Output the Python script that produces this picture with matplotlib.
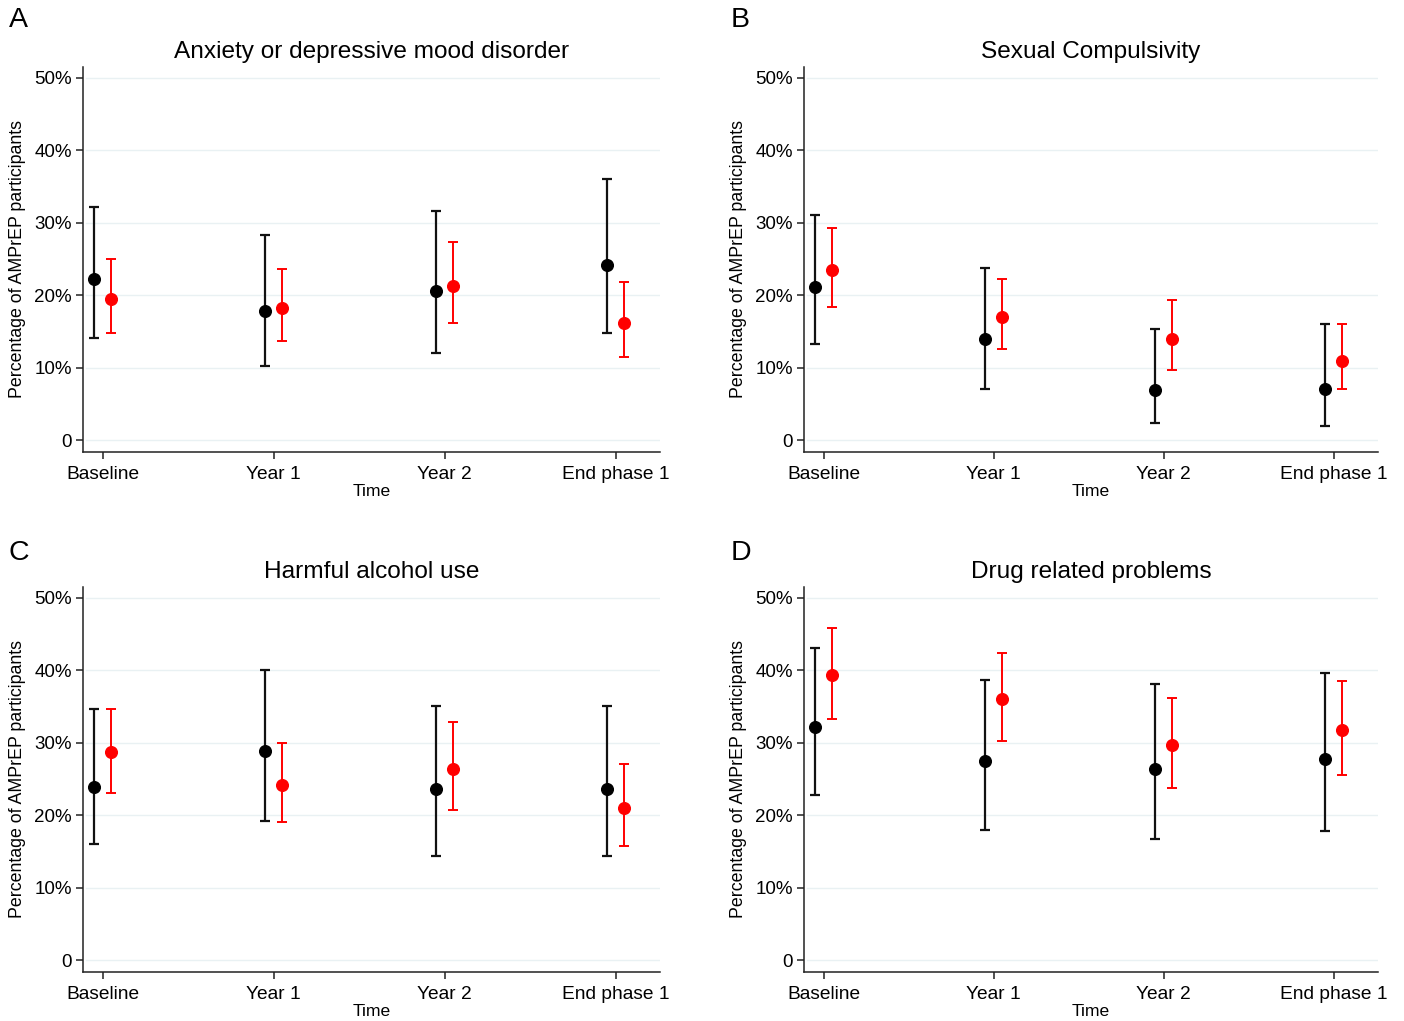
import matplotlib
matplotlib.use("Agg")
import matplotlib.pyplot as plt
import numpy as np

plt.rcParams['font.family'] = ['Liberation Sans', 'DejaVu Sans']

timepoints = ["Baseline", "Year 1", "Year 2", "End phase 1"]
ytick_vals = [0, 10, 20, 30, 40, 50]
ytick_labels = ["0", "10%", "20%", "30%", "40%", "50%"]

titles = ["Anxiety or depressive mood disorder", "Sexual Compulsivity",
          "Harmful alcohol use", "Drug related problems"]
letters = ["A", "B", "C", "D"]

# black series: estimate, lower CI, upper CI
a_black = [22.2, 17.8, 20.5, 24.2]
a_black_lo = [14.1, 10.2, 12.0, 14.8]
a_black_hi = [32.2, 28.3, 31.6, 36.0]
a_red = [19.5, 18.2, 21.3, 16.1]
a_red_lo = [14.8, 13.6, 16.1, 11.4]
a_red_hi = [25.0, 23.6, 27.3, 21.8]

b_black = [21.1, 13.9, 6.9, 7.1]
b_black_lo = [13.2, 7.0, 2.3, 2.0]
b_black_hi = [31.0, 23.8, 15.3, 16.0]
b_red = [23.5, 17.0, 13.9, 10.9]
b_red_lo = [18.4, 12.6, 9.7, 7.0]
b_red_hi = [29.2, 22.2, 19.3, 16.0]

c_black = [23.9, 28.8, 23.6, 23.6]
c_black_lo = [16.0, 19.2, 14.4, 14.4]
c_black_hi = [34.6, 40.0, 35.1, 35.1]
c_red = [28.7, 24.1, 26.4, 21.0]
c_red_lo = [23.0, 19.1, 20.7, 15.8]
c_red_hi = [34.7, 30.0, 32.9, 27.1]

d_black = [32.2, 27.5, 26.4, 27.7]
d_black_lo = [22.8, 18.0, 16.7, 17.8]
d_black_hi = [43.0, 38.6, 38.1, 39.6]
d_red = [39.3, 36.0, 29.6, 31.7]
d_red_lo = [33.3, 30.2, 23.7, 25.5]
d_red_hi = [45.8, 42.4, 36.2, 38.5]

panels = [
    (a_black, a_black_lo, a_black_hi, a_red, a_red_lo, a_red_hi),
    (b_black, b_black_lo, b_black_hi, b_red, b_red_lo, b_red_hi),
    (c_black, c_black_lo, c_black_hi, c_red, c_red_lo, c_red_hi),
    (d_black, d_black_lo, d_black_hi, d_red, d_red_lo, d_red_hi),
]

W, H = 1404, 1021
fig = plt.figure(figsize=(W / 100, H / 100), dpi=100)

# axes rectangles in pixels: left, right, bottom(px from top), top(px from top)
rects = [
    (83, 660, 451.7, 66.7),
    (804, 1378, 451.7, 66.7),
    (83, 660, 971.7, 586.7),
    (804, 1378, 971.7, 586.7),
]
letter_pos = [(9, 7), (731, 7), (9, 540), (731, 540)]

off = 0.05
x = np.arange(len(timepoints))
for i, (rect, data) in enumerate(zip(rects, panels)):
    l, r, b, t = rect
    ax = fig.add_axes([l / W, (H - b) / H, (r - l) / W, (b - t) / H])
    bk, bklo, bkhi, rd, rdlo, rdhi = [np.array(v) for v in data]
    for yv in ytick_vals:
        ax.axhline(yv, color='#e9f1f3', lw=1.0, zorder=0, xmin=0.005)
    ax.errorbar(x - off, bk, yerr=[bk - bklo, bkhi - bk], fmt='o', color='black',
                ecolor='#111111', elinewidth=1.6, capsize=3.3, capthick=1.6,
                markersize=8.4, zorder=3)
    ax.errorbar(x + off, rd, yerr=[rd - rdlo, rdhi - rd], fmt='o', color='#ff0000',
                ecolor='#ff0000', elinewidth=1.4, capsize=3.3, capthick=1.4,
                markersize=8.4, zorder=3)
    ax.set_xlim(-0.115, 3.26)
    ax.set_ylim(-1.6, 51.5)
    ax.set_xticks(x)
    ax.set_xticklabels(timepoints, fontsize=13.8)
    ax.set_yticks(ytick_vals)
    ax.set_yticklabels(ytick_labels, fontsize=13.5)
    ax.tick_params(axis='both', length=5, width=1.1, color='#222222', pad=3)
    ax.tick_params(axis='x', pad=5)
    for s in ['top', 'right']:
        ax.spines[s].set_visible(False)
    for s in ['left', 'bottom']:
        ax.spines[s].set_linewidth(1.1)
        ax.spines[s].set_color('#222222')
    ax.set_title(titles[i], fontsize=17.6, pad=6)
    ax.set_xlabel("Time", fontsize=12.6, labelpad=1)
    ax.set_ylabel("Percentage of AMPrEP participants", fontsize=12.8, labelpad=6)
    lx, ly = letter_pos[i]
    fig.text(lx / W, 1 - ly / H, letters[i], fontsize=20.5, va='top', ha='left')

fig.savefig("out.png", dpi=100)
